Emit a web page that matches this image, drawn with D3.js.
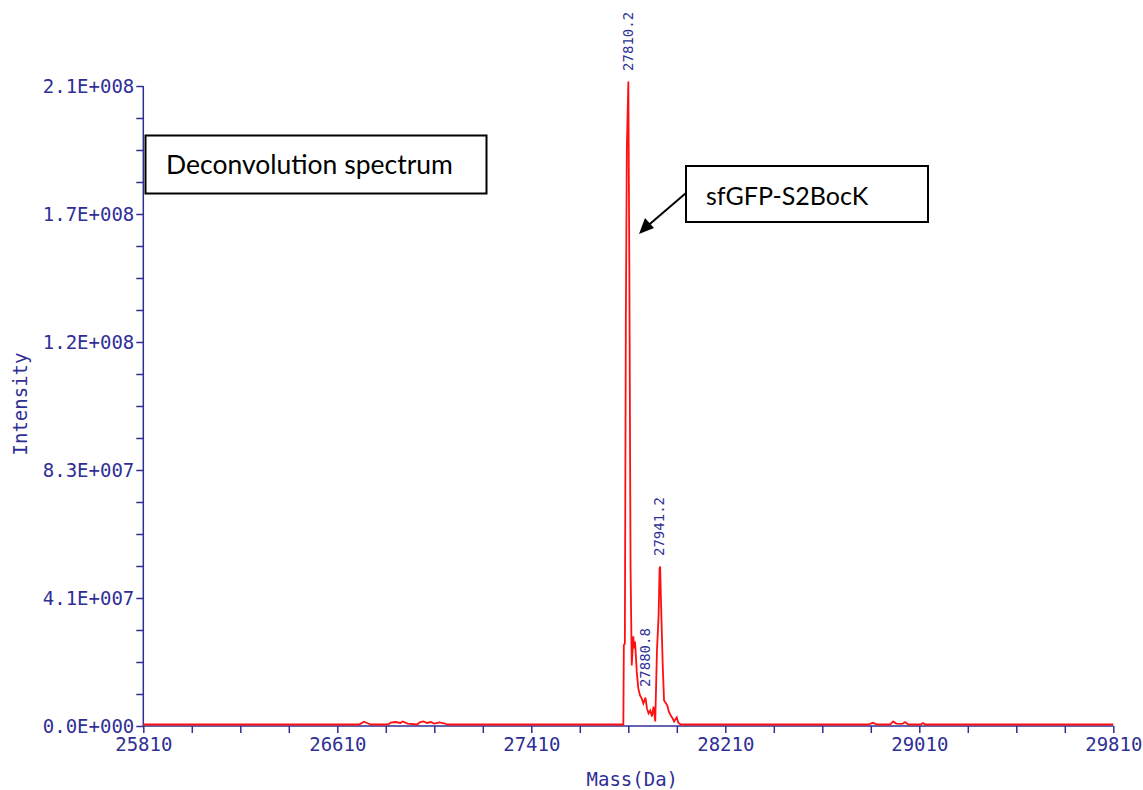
<!DOCTYPE html>
<html>
<head>
<meta charset="utf-8">
<script src="https://cdn.jsdelivr.net/npm/d3@7"></script>
<style>
  body { margin: 0; background: #fff; }
  svg { display: block; }
</style>
</head>
<body>
<svg></svg>
<script>
// Canvas size
var w = 1143;
var h = 790;

// Plot area (pixel box of the spectrum)
var margin = { top: 86, right: 29.7, bottom: 64, left: 143.3 };
var width = w - margin.left - margin.right;
var height = h - margin.top - margin.bottom;

// X axis: mass range and labelled ticks
var massRange = [25810, 29810];
var xTickLabels = [25810, 26610, 27410, 28210, 29010, 29810];
var xMinorStep = 200;

// Y axis: intensity range and labelled ticks
var intensityMax = 2.07e8;
var yTickLabels = ["0.0E+000", "4.1E+007", "8.3E+007", "1.2E+008", "1.7E+008", "2.1E+008"];

// Spectrum trace (Da, counts)
var massDa = [
  25810, 26700, 26720, 26735, 26750, 26820, 26830, 26850, 26870, 26880,
  26900, 26940, 26950, 26965, 26980, 26995, 27010, 27030, 27050, 27065,
  27776.0, 27789.6, 27791.6, 27795.8, 27799.9, 27804.0, 27810.2, 27814.3, 27819.3, 27824.2,
  27830.8, 27833.7, 27837.8, 27841.9, 27844.8, 27851.4, 27858.4, 27865.5, 27872.1, 27880.8,
  27886.9, 27893.5, 27900.5, 27907.5, 27914.1, 27921.1, 27928.1, 27934.9, 27939.0, 27941.2,
  27946.3, 27952.0, 27957.4, 27965.7, 27971.0, 27976.8, 27985.1, 27993.3, 27998.7, 28009.8,
  28016.4, 28026.3,
  28800, 28819, 28835, 28890, 28902, 28915, 28940, 28951, 28965, 29015, 29025, 29035,
  29810
];
var intensity = [
  0, 0, 0.9e6, 0.4e6, 0, 0, 0.6e6, 0.8e6, 0.5e6, 1.0e6,
  0.3e6, 0, 0.7e6, 1.0e6, 0.5e6, 0.8e6, 0.3e6, 0.7e6, 0.4e6, 0,
  0, 0, 25.6e6, 26.2e6, 131.3e6, 186.3e6, 208.0e6, 147.5e6, 50.5e6, 19.1e6,
  28.5e6, 24.6e6, 26.8e6, 21.3e6, 17.1e6, 11.6e6, 9.4e6, 8.4e6, 6.8e6, 8.7e6,
  5.2e6, 3.6e6, 4.5e6, 2.6e6, 5.8e6, 1.0e6, 23.6e6, 35.3e6, 50.5e6, 51.1e6,
  35.3e6, 19.1e6, 7.8e6, 6.8e6, 6.1e6, 4.2e6, 2.9e6, 1.9e6, 1.0e6, 2.3e6,
  0.6e6, 0,
  0, 0.6e6, 0, 0, 1.0e6, 0.3e6, 0.2e6, 0.8e6, 0, 0, 0.5e6, 0,
  0
];

// Labelled peaks
var peakMass = [27810.2, 27880.8, 27941.2];
var peakText = ["27810.2", "27880.8", "27941.2"];

var axisColor = "#2f2f96";
var monoFont = "'DejaVu Sans Mono', monospace";

var data = massDa.map(function (m, i) { return { mass: m, amount: intensity[i] }; });

var xScale = d3.scaleLinear().domain(massRange).range([0, width]);
var yScale = d3.scaleLinear().domain([0, intensityMax]).range([height, 0]);

var svg = d3.select("svg")
    .attr("width", w)
    .attr("height", h)
    .append("g")
    .attr("transform", "translate(" + margin.left + "," + margin.top + ")");

// Minor + major ticks along x
var xTicks = d3.range(massRange[0], massRange[1] + 1, xMinorStep);
var xAxis = d3.axisBottom(xScale)
    .tickValues(xTicks)
    .tickSize(7)
    .tickPadding(5)
    .tickFormat(function (d) { return xTickLabels.indexOf(d) >= 0 ? d : ""; });

var gx = svg.append("g")
    .attr("transform", "translate(0," + height + ")")
    .call(xAxis);

// Minor + major ticks along y
var yTicks = d3.range(0, 21).map(function (i) { return i * intensityMax / 20; });
var yAxis = d3.axisLeft(yScale)
    .tickValues(yTicks)
    .tickSize(7)
    .tickPadding(2)
    .tickFormat(function (d, i) { return i % 4 === 0 ? yTickLabels[i / 4] : ""; });

var gy = svg.append("g").call(yAxis);

[gx, gy].forEach(function (g) {
    g.select(".domain").attr("stroke", axisColor).attr("stroke-width", 1.5);
    g.selectAll(".tick line").attr("stroke", axisColor).attr("stroke-width", 1.5);
    g.selectAll(".tick text")
        .attr("fill", axisColor)
        .attr("font-family", monoFont)
        .attr("font-size", "19px");
});
gy.select(".domain").attr("d", "M0," + height + "V0");
gx.select(".domain").attr("d", "M0,0H" + width);

// Spectrum trace
var line = d3.line()
    .x(function (d) { return xScale(d.mass); })
    .y(function (d) { return yScale(d.amount); });

svg.append("path")
    .datum(data)
    .attr("fill", "none")
    .attr("stroke", "#ff1010")
    .attr("stroke-width", 1.8)
    .attr("stroke-linejoin", "miter")
    .attr("transform", "translate(0,-1.5)")
    .attr("d", line);

// Peak labels, rotated
peakMass.forEach(function (m, i) {
    var idx = massDa.indexOf(m);
    var px = xScale(m);
    var py = yScale(intensity[idx]) - 12;
    svg.append("text")
        .attr("transform", "translate(" + px + "," + py + ") rotate(-90)")
        .attr("dy", "0.3em")
        .attr("fill", axisColor)
        .attr("font-family", monoFont)
        .attr("font-size", "14px")
        .text(peakText[i]);
});

// Axis titles
svg.append("text")
    .attr("x", width / 2 + 4)
    .attr("y", height + 60)
    .attr("text-anchor", "middle")
    .attr("fill", axisColor)
    .attr("font-family", monoFont)
    .attr("font-size", "19px")
    .text("Mass(Da)");

svg.append("text")
    .attr("transform", "translate(" + (-margin.left + 27) + "," + (height / 2 - 2) + ") rotate(-90)")
    .attr("text-anchor", "middle")
    .attr("fill", axisColor)
    .attr("font-family", monoFont)
    .attr("font-size", "19px")
    .text("Intensity");

// Annotations (page coordinates)
var root = d3.select("svg");
var noteFont = "Lato, 'Open Sans', sans-serif";

root.append("rect")
    .attr("x", 145.5).attr("y", 135.5)
    .attr("width", 341).attr("height", 58)
    .attr("fill", "#fff").attr("stroke", "#000").attr("stroke-width", 2);
root.append("text")
    .attr("x", 166).attr("y", 174)
    .attr("font-family", noteFont).attr("font-size", "26.5px")
    .attr("fill", "#000")
    .text("Deconvolution spectrum");

root.append("rect")
    .attr("x", 686).attr("y", 166)
    .attr("width", 242).attr("height", 56)
    .attr("fill", "#fff").attr("stroke", "#000").attr("stroke-width", 2);
root.append("text")
    .attr("x", 706).attr("y", 205)
    .attr("font-family", noteFont).attr("font-size", "25px")
    .attr("fill", "#000")
    .text("sfGFP-S2BocK");

root.append("line")
    .attr("x1", 686).attr("y1", 193)
    .attr("x2", 644).attr("y2", 229)
    .attr("stroke", "#000").attr("stroke-width", 2);
root.append("path")
    .attr("d", "M639,234 L645,218 L654,228 Z")
    .attr("fill", "#000");
</script>
</body>
</html>
